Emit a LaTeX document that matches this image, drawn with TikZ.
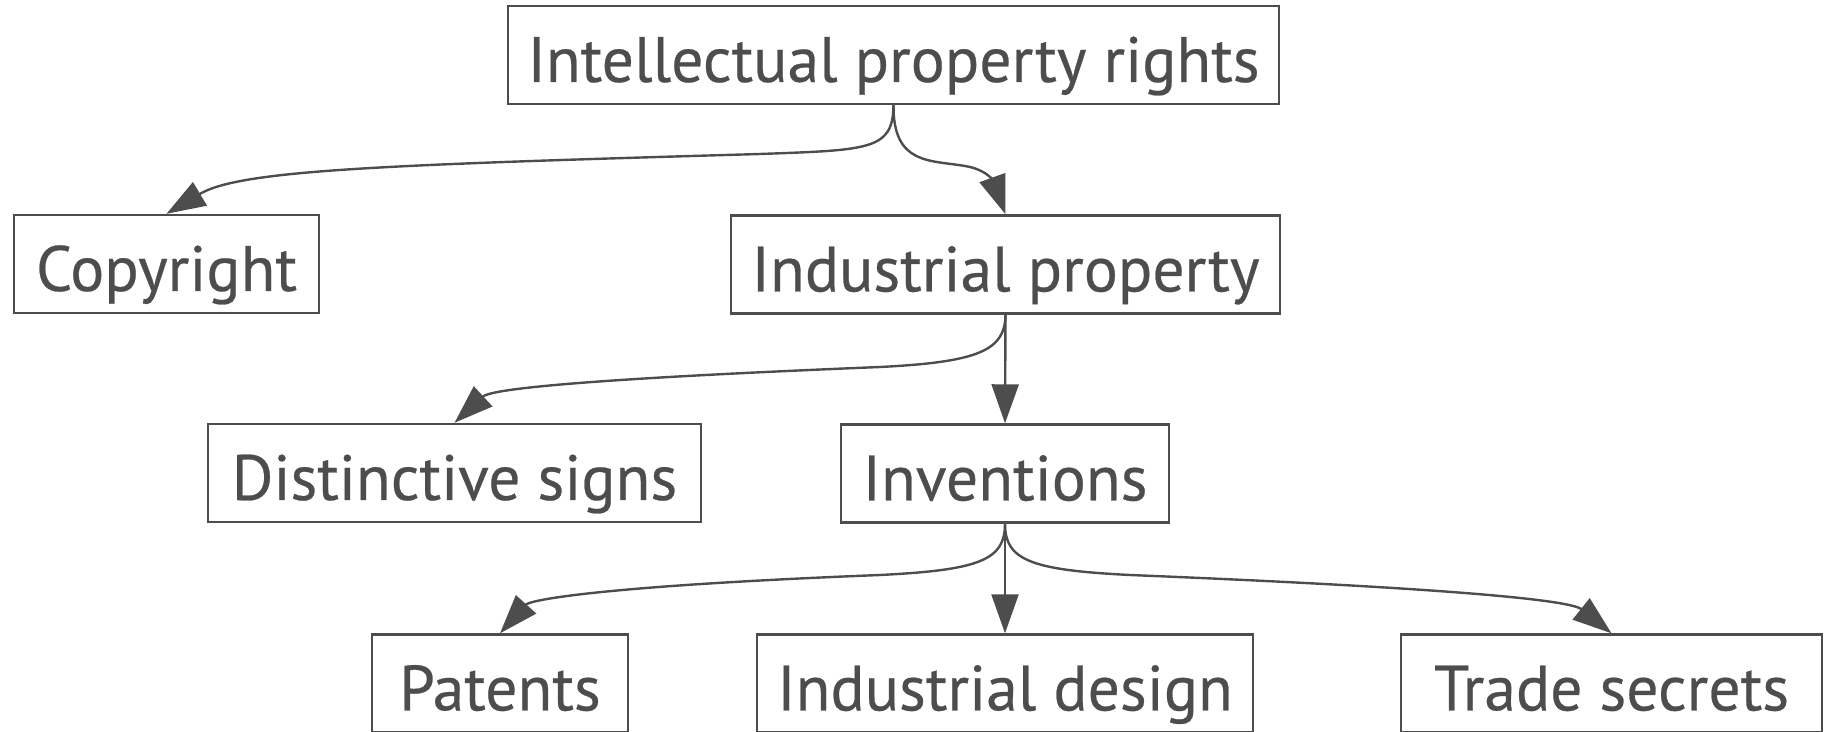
\documentclass[tikz,border=0pt]{standalone}
\usepackage{fontspec}
\setmainfont{PT Sans}[FakeStretch=0.995,FakeBold=0.4]
\usetikzlibrary{arrows.meta}
\definecolor{ink}{HTML}{4D4D4D}
\tikzset{
  box/.style={draw=ink, line width=1.2pt, inner sep=0pt, text=ink,
    minimum height=49pt, text height=22.4pt, text depth=0pt,
    font=\fontsize{32}{38}\selectfont},
  arr/.style={draw=ink, line width=1.2pt, -{Triangle[length=19.5pt,width=13.5pt]}, fill=none},
}
\begin{document}
\begin{tikzpicture}[x=0.5pt,y=-0.5pt]
\useasboundingbox (0,0) rectangle (1831,732);
\node[box, minimum width=385.5pt] (ipr) at (893.5,55) {\raisebox{-2.25pt}{Intellectual property rights}};
\node[box, minimum width=152.5pt] (cr) at (166.5,264) {\raisebox{-2.25pt}{Copyright}};
\node[box, minimum width=274.5pt] (ip) at (1005.5,264.5) {\raisebox{-2.25pt}{Industrial property}};
\node[box, minimum width=246.5pt] (ds) at (454.5,473) {\raisebox{-2.25pt}{Distinctive signs}};
\node[box, minimum width=164pt] (inv) at (1005,473.5) {\raisebox{-2.25pt}{Inventions}};
\node[box, minimum width=128pt] (pa) at (500,683.5) {\raisebox{-2.25pt}{Patents}};
\node[box, minimum width=248pt] (id) at (1005,683.5) {\raisebox{-2.25pt}{Industrial design}};
\node[box, minimum width=210.5pt] (ts) at (1611.5,683.5) {\raisebox{-2.25pt}{Trade secrets}};

\draw[arr] (ipr.south) .. controls (893,150) and (870,150) .. (760,154)
  .. controls (380,165) and (240,170) .. (cr.north);
\draw[arr] (ipr.south) .. controls (893,165) and (930,160) .. (965,166)
  .. controls (990,170) and (995,185) .. (ip.north);
\draw[arr] (ip.south) .. controls (1005,350) and (980,362) .. (880,367)
  .. controls (560,380) and (490,390) .. (ds.north);
\draw[arr] (ip.south) -- (inv.north);
\draw[arr] (inv.south) .. controls (1005,560) and (980,570) .. (880,575)
  .. controls (600,586) and (530,600) .. (pa.north);
\draw[arr] (inv.south) -- (id.north);
\draw[arr] (inv.south) .. controls (1005,560) and (1030,570) .. (1130,575)
  .. controls (1450,588) and (1570,600) .. (ts.north);
\end{tikzpicture}
\end{document}
